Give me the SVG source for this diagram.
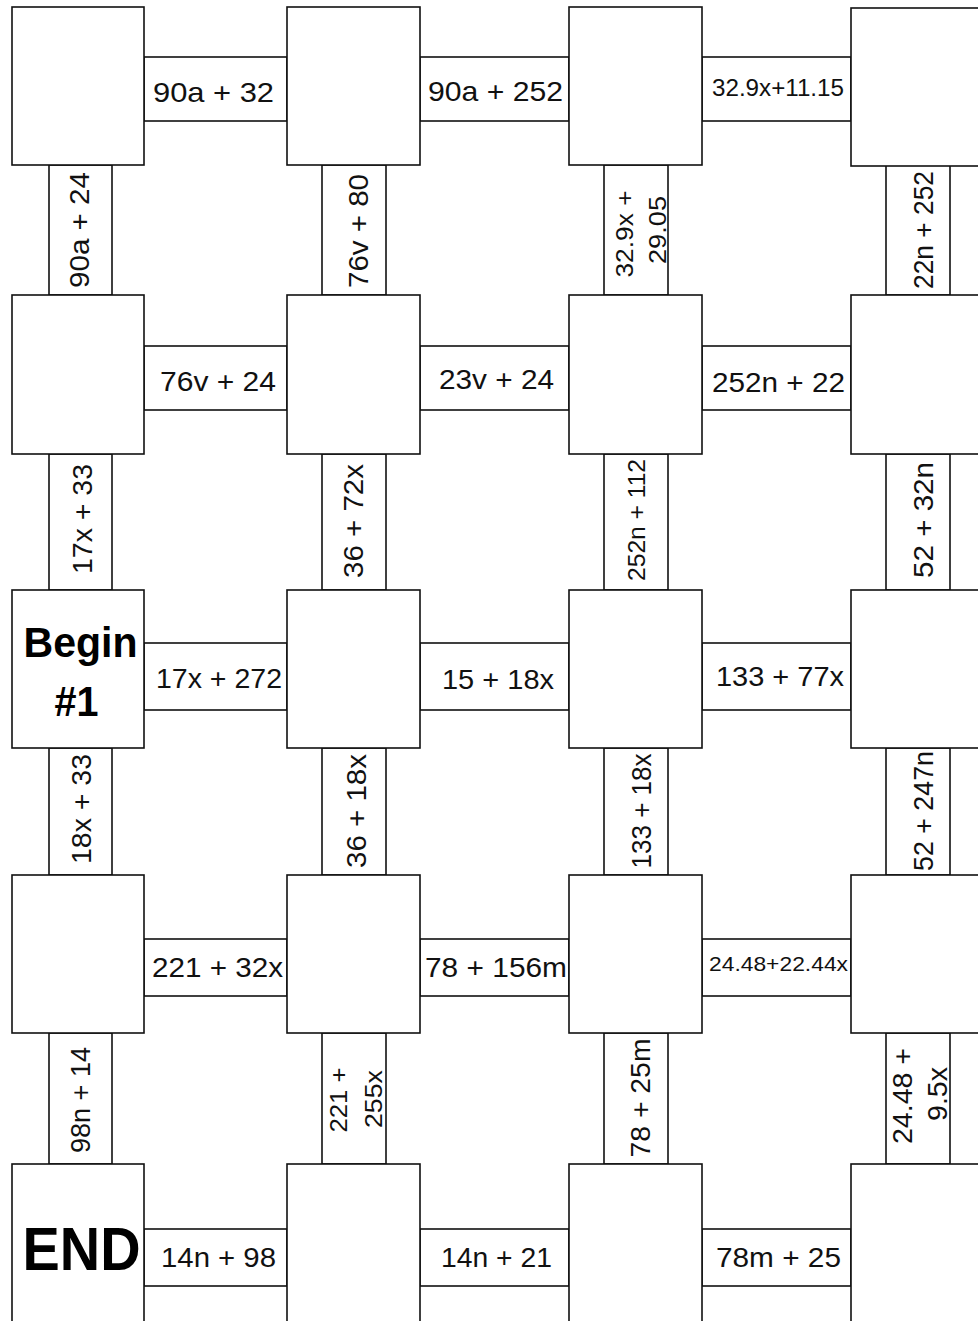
<svg xmlns="http://www.w3.org/2000/svg" width="978" height="1321" viewBox="0 0 978 1321">
<style>
  .bg{fill:#fff}
  .sq{fill:#fff;stroke:#111;stroke-width:1.6}
  .cn{fill:#fff;stroke:#111;stroke-width:1.6}
  .t{font-family:"Liberation Sans",Arial,sans-serif;font-size:28px;fill:#111}
  .s{font-size:24px}
  .xs{font-size:21px}
  .v{text-anchor:middle}
  .b{font-family:"Liberation Sans",Arial,sans-serif;font-weight:bold;fill:#000;text-anchor:middle}
</style>
<rect class="bg" x="0" y="0" width="978" height="1321"/>
<g id="connectors">
  <!-- horizontal connectors -->
  <rect class="cn" x="144" y="57" width="143" height="64"/>
  <rect class="cn" x="420" y="57" width="149" height="64"/>
  <rect class="cn" x="702" y="57" width="149" height="64"/>
  <rect class="cn" x="144" y="346" width="143" height="64"/>
  <rect class="cn" x="420" y="346" width="149" height="64"/>
  <rect class="cn" x="702" y="346" width="149" height="64"/>
  <rect class="cn" x="144" y="643" width="143" height="67"/>
  <rect class="cn" x="420" y="643" width="149" height="67"/>
  <rect class="cn" x="702" y="643" width="149" height="67"/>
  <rect class="cn" x="144" y="939" width="143" height="57"/>
  <rect class="cn" x="420" y="939" width="149" height="57"/>
  <rect class="cn" x="702" y="939" width="149" height="57"/>
  <rect class="cn" x="144" y="1229" width="143" height="57"/>
  <rect class="cn" x="420" y="1229" width="149" height="57"/>
  <rect class="cn" x="702" y="1229" width="149" height="57"/>
  <!-- vertical connectors -->
  <rect class="cn" x="49" y="165" width="63" height="130"/>
  <rect class="cn" x="322" y="165" width="64" height="130"/>
  <rect class="cn" x="604" y="165" width="64" height="130"/>
  <rect class="cn" x="886" y="165" width="64" height="130"/>
  <rect class="cn" x="49" y="454" width="63" height="136"/>
  <rect class="cn" x="322" y="454" width="64" height="136"/>
  <rect class="cn" x="604" y="454" width="64" height="136"/>
  <rect class="cn" x="886" y="454" width="64" height="136"/>
  <rect class="cn" x="49" y="748" width="63" height="127"/>
  <rect class="cn" x="322" y="748" width="64" height="127"/>
  <rect class="cn" x="604" y="748" width="64" height="127"/>
  <rect class="cn" x="886" y="748" width="64" height="127"/>
  <rect class="cn" x="49" y="1033" width="63" height="131"/>
  <rect class="cn" x="322" y="1033" width="64" height="131"/>
  <rect class="cn" x="604" y="1033" width="64" height="131"/>
  <rect class="cn" x="886" y="1033" width="64" height="131"/>

  <!-- horizontal labels -->
  <text class="t" x="153" y="102" textLength="121" lengthAdjust="spacingAndGlyphs">90a + 32</text>
  <text class="t" x="428" y="101" textLength="135" lengthAdjust="spacingAndGlyphs">90a + 252</text>
  <text class="t s" x="712" y="96" textLength="132" lengthAdjust="spacingAndGlyphs">32.9x+11.15</text>
  <text class="t" x="160" y="391" textLength="116" lengthAdjust="spacingAndGlyphs">76v + 24</text>
  <text class="t" x="439" y="389" textLength="115" lengthAdjust="spacingAndGlyphs">23v + 24</text>
  <text class="t" x="712" y="392" textLength="133" lengthAdjust="spacingAndGlyphs">252n + 22</text>
  <text class="t" x="156" y="688" textLength="126" lengthAdjust="spacingAndGlyphs">17x + 272</text>
  <text class="t" x="442" y="689" textLength="112" lengthAdjust="spacingAndGlyphs">15 + 18x</text>
  <text class="t" x="716" y="686" textLength="128" lengthAdjust="spacingAndGlyphs">133 + 77x</text>
  <text class="t" x="152" y="977" textLength="131" lengthAdjust="spacingAndGlyphs">221 + 32x</text>
  <text class="t" x="425" y="977" textLength="142" lengthAdjust="spacingAndGlyphs">78 + 156m</text>
  <text class="t xs" x="709" y="971" textLength="139" lengthAdjust="spacingAndGlyphs">24.48+22.44x</text>
  <text class="t" x="161" y="1267" textLength="115" lengthAdjust="spacingAndGlyphs">14n + 98</text>
  <text class="t" x="441" y="1267" textLength="111" lengthAdjust="spacingAndGlyphs">14n + 21</text>
  <text class="t" x="716" y="1267" textLength="125" lengthAdjust="spacingAndGlyphs">78m + 25</text>

  <!-- vertical labels -->
  <text class="t v" transform="translate(89,230) rotate(-90)" textLength="116" lengthAdjust="spacingAndGlyphs">90a + 24</text>
  <text class="t v" transform="translate(92,519) rotate(-90)" textLength="110" lengthAdjust="spacingAndGlyphs">17x + 33</text>
  <text class="t v" transform="translate(91,809) rotate(-90)" textLength="110" lengthAdjust="spacingAndGlyphs">18x + 33</text>
  <text class="t v" transform="translate(90,1100) rotate(-90)" textLength="106" lengthAdjust="spacingAndGlyphs">98n + 14</text>

  <text class="t v" transform="translate(368,231) rotate(-90)" textLength="114" lengthAdjust="spacingAndGlyphs">76v + 80</text>
  <text class="t v" transform="translate(363,521) rotate(-90)" textLength="114" lengthAdjust="spacingAndGlyphs">36 + 72x</text>
  <text class="t v" transform="translate(366,811) rotate(-90)" textLength="114" lengthAdjust="spacingAndGlyphs">36 + 18x</text>
  <text class="t v s" transform="translate(347,1100) rotate(-90)" textLength="65" lengthAdjust="spacingAndGlyphs">221 +</text>
  <text class="t v s" transform="translate(382,1099) rotate(-90)" textLength="58" lengthAdjust="spacingAndGlyphs">255x</text>

  <text class="t v s" transform="translate(633,234) rotate(-90)" textLength="87" lengthAdjust="spacingAndGlyphs">32.9x +</text>
  <text class="t v s" transform="translate(666,230) rotate(-90)" textLength="68" lengthAdjust="spacingAndGlyphs">29.05</text>
  <text class="t v s" transform="translate(645,520) rotate(-90)" textLength="122" lengthAdjust="spacingAndGlyphs">252n + 112</text>
  <text class="t v" transform="translate(651,811) rotate(-90)" textLength="115" lengthAdjust="spacingAndGlyphs">133 + 18x</text>
  <text class="t v" transform="translate(650,1098) rotate(-90)" textLength="119" lengthAdjust="spacingAndGlyphs">78 + 25m</text>

  <text class="t v" transform="translate(933,230) rotate(-90)" textLength="118" lengthAdjust="spacingAndGlyphs">22n + 252</text>
  <text class="t v" transform="translate(933,520) rotate(-90)" textLength="116" lengthAdjust="spacingAndGlyphs">52 + 32n</text>
  <text class="t v" transform="translate(933,811) rotate(-90)" textLength="120" lengthAdjust="spacingAndGlyphs">52 + 247n</text>
  <text class="t v" transform="translate(912,1096) rotate(-90)" textLength="96" lengthAdjust="spacingAndGlyphs">24.48 +</text>
  <text class="t v" transform="translate(947,1094) rotate(-90)" textLength="54" lengthAdjust="spacingAndGlyphs">9.5x</text>
</g>

<g id="node-r1c1"><rect class="sq" x="12" y="7" width="132" height="158"/></g>
<g id="node-r1c2"><rect class="sq" x="287" y="7" width="133" height="158"/></g>
<g id="node-r1c3"><rect class="sq" x="569" y="7" width="133" height="158"/></g>
<g id="node-r1c4"><rect class="sq" x="851" y="8" width="140" height="158"/></g>

<g id="node-r2c1"><rect class="sq" x="12" y="295" width="132" height="159"/></g>
<g id="node-r2c2"><rect class="sq" x="287" y="295" width="133" height="159"/></g>
<g id="node-r2c3"><rect class="sq" x="569" y="295" width="133" height="159"/></g>
<g id="node-r2c4"><rect class="sq" x="851" y="295" width="140" height="159"/></g>

<g id="node-begin">
  <rect class="sq" x="12" y="590" width="132" height="158"/>
  <text class="b" x="80.5" y="657" font-size="42" textLength="114" lengthAdjust="spacingAndGlyphs">Begin</text>
  <text class="b" x="76.5" y="716" font-size="42" textLength="44" lengthAdjust="spacingAndGlyphs">#1</text>
</g>
<g id="node-r3c2"><rect class="sq" x="287" y="590" width="133" height="158"/></g>
<g id="node-r3c3"><rect class="sq" x="569" y="590" width="133" height="158"/></g>
<g id="node-r3c4"><rect class="sq" x="851" y="590" width="140" height="158"/></g>

<g id="node-r4c1"><rect class="sq" x="12" y="875" width="132" height="158"/></g>
<g id="node-r4c2"><rect class="sq" x="287" y="875" width="133" height="158"/></g>
<g id="node-r4c3"><rect class="sq" x="569" y="875" width="133" height="158"/></g>
<g id="node-r4c4"><rect class="sq" x="851" y="875" width="140" height="158"/></g>

<g id="node-end">
  <rect class="sq" x="12" y="1164" width="132" height="170"/>
  <text class="b" x="81.5" y="1270" font-size="62" textLength="118" lengthAdjust="spacingAndGlyphs">END</text>
</g>
<g id="node-r5c2"><rect class="sq" x="287" y="1164" width="133" height="170"/></g>
<g id="node-r5c3"><rect class="sq" x="569" y="1164" width="133" height="170"/></g>
<g id="node-r5c4"><rect class="sq" x="851" y="1164" width="140" height="170"/></g>
</svg>
